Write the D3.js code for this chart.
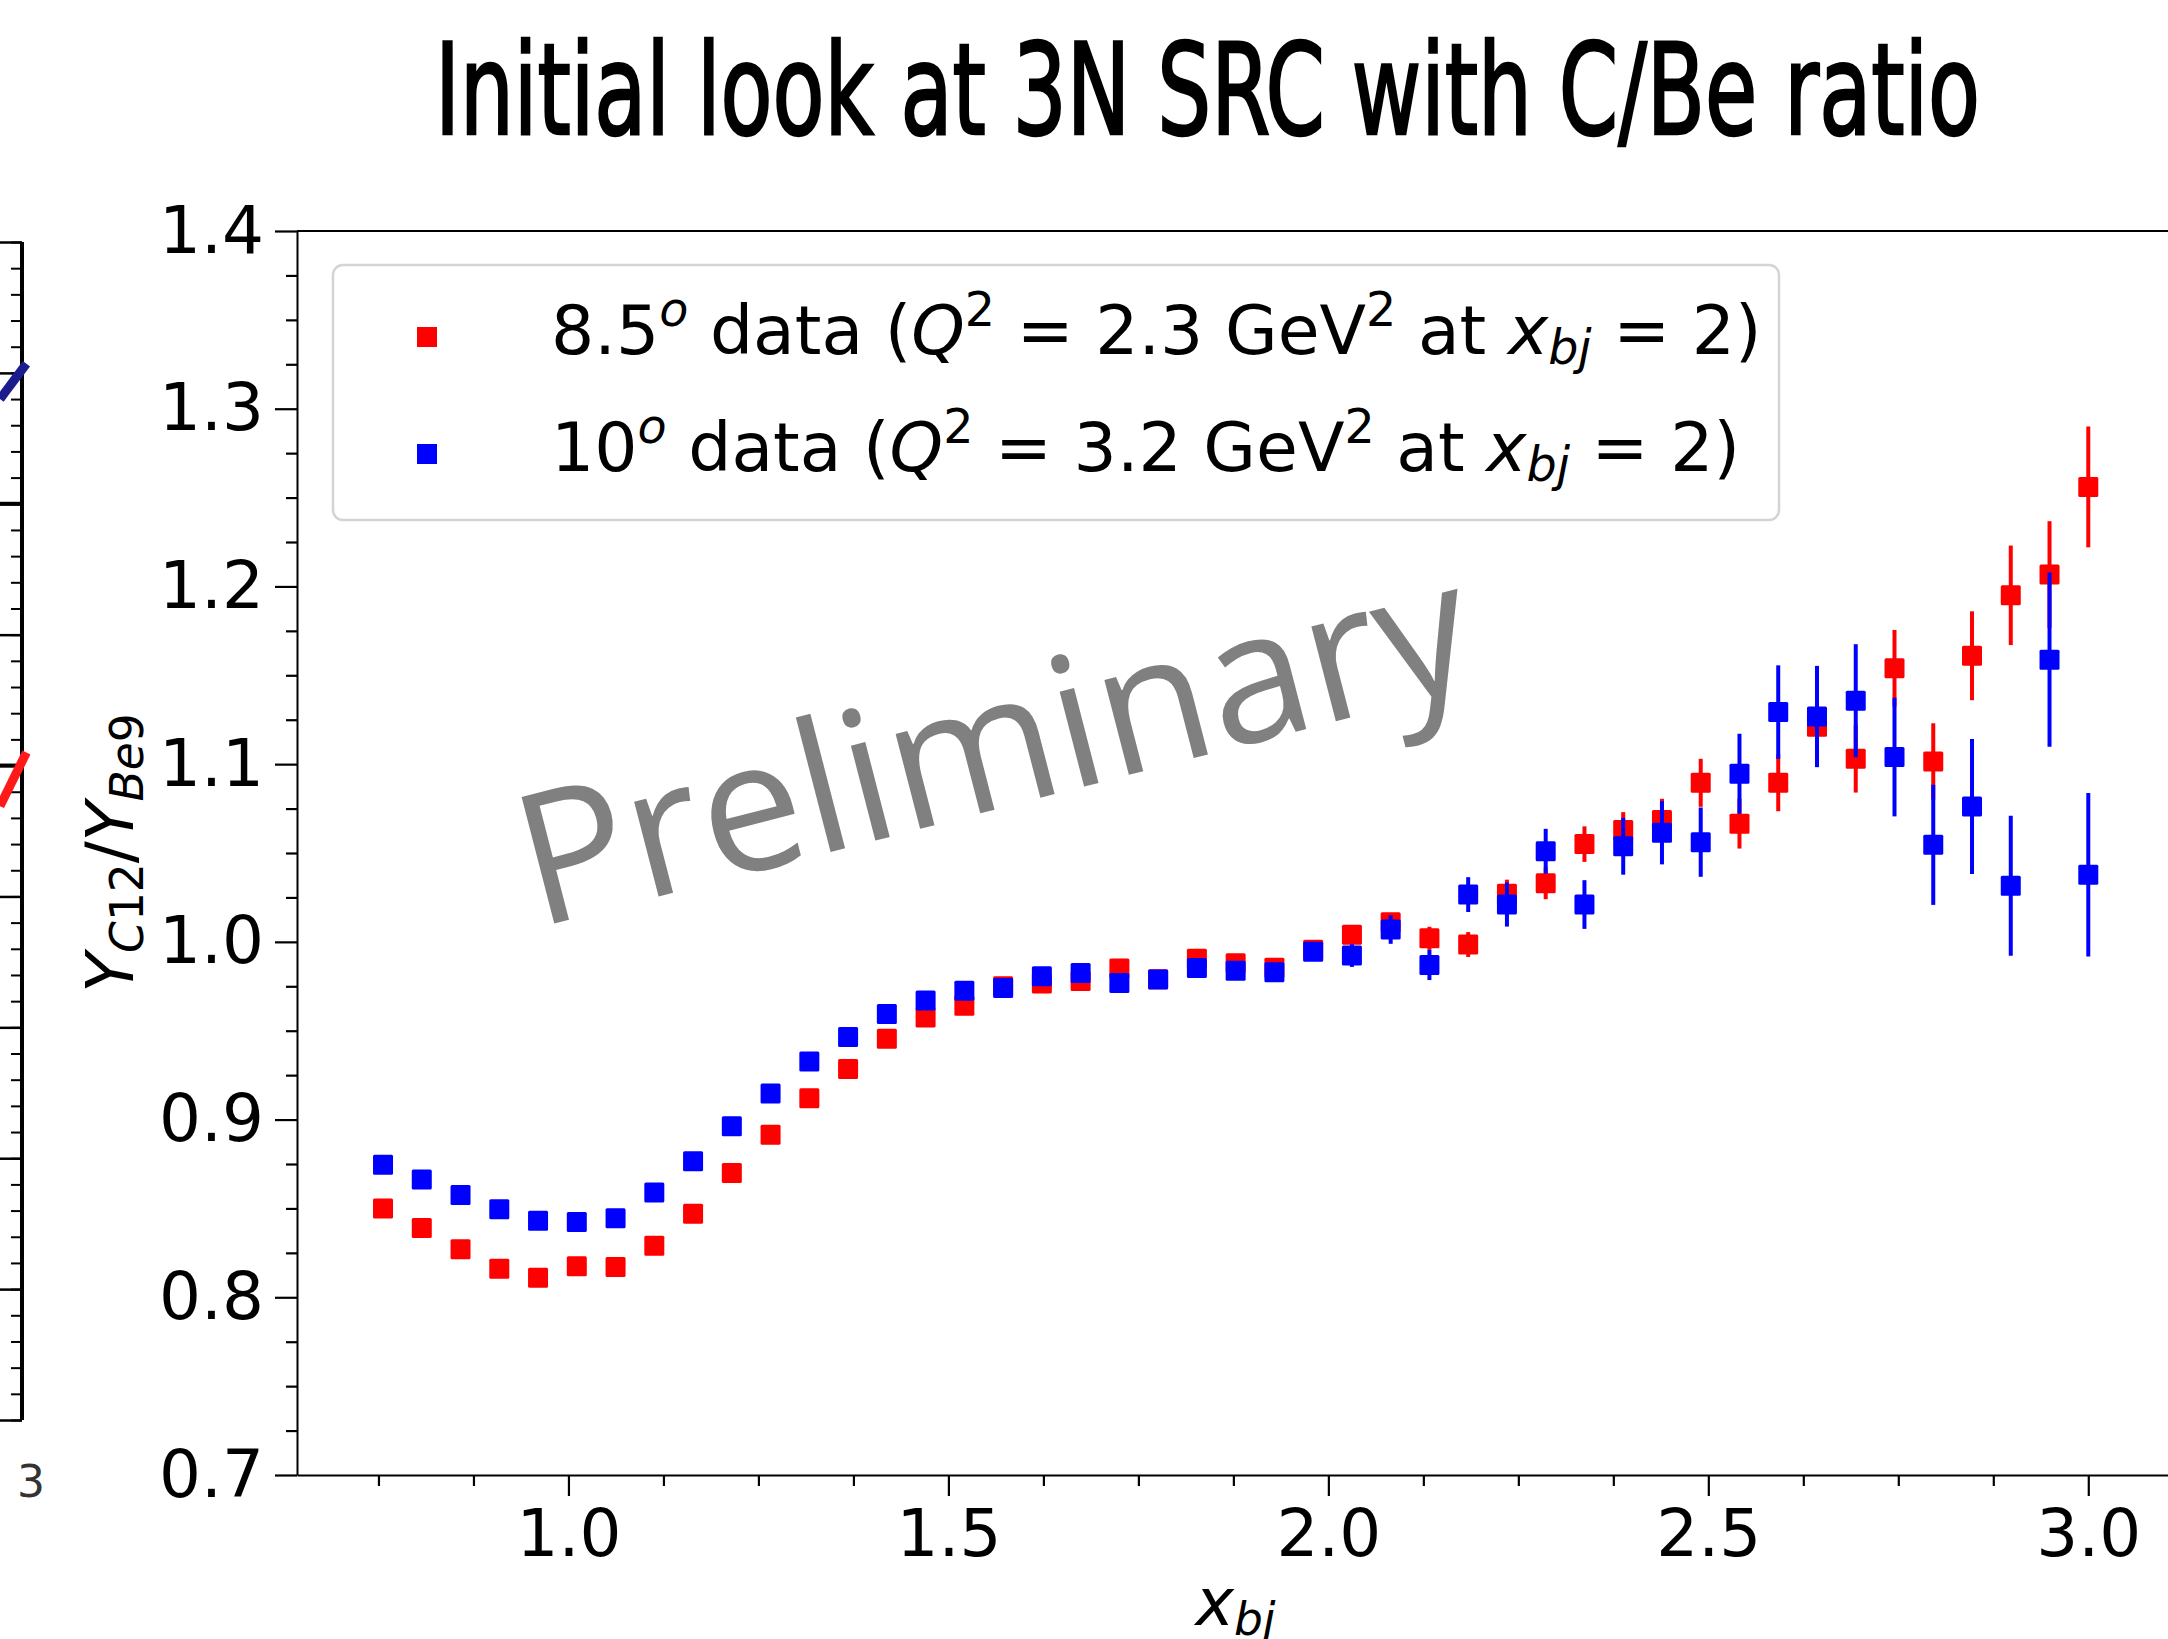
<!DOCTYPE html>
<html lang="en">
<head>
<meta charset="UTF-8" />
<title>Initial look at 3N SRC with C/Be ratio</title>
<script src="https://cdnjs.cloudflare.com/ajax/libs/d3/7.8.5/d3.min.js"></script>
<style>
  html, body { margin: 0; padding: 0; background: #fff; }
  svg { display: block; }
  text { font-family: 'DejaVu Sans', sans-serif; white-space: pre; }
</style>
</head>
<body>
<svg id="chart" width="2168" height="1639"></svg>
<script>
// x_bj bin centres (shared by both data sets)
const xbj = [0.756, 0.807, 0.858, 0.909, 0.960, 1.011, 1.062, 1.113, 1.164, 1.215,
  1.266, 1.317, 1.368, 1.419, 1.470, 1.521, 1.572, 1.623, 1.674, 1.725,
  1.776, 1.827, 1.878, 1.929, 1.980, 2.031, 2.082, 2.133, 2.184, 2.235,
  2.286, 2.337, 2.388, 2.439, 2.490, 2.541, 2.592, 2.643, 2.694, 2.745,
  2.796, 2.847, 2.898, 2.949, 3.000];

// 8.5 deg data
const ratio85 = [0.850, 0.839, 0.827, 0.816, 0.811, 0.8175, 0.817, 0.829, 0.847, 0.870,
  0.8915, 0.912, 0.9285, 0.9455, 0.9575, 0.964, 0.975, 0.9765, 0.978, 0.985,
  0.979, 0.9905, 0.988, 0.9855, 0.9955, 1.004, 1.011, 1.002, 0.9985, 1.027,
  1.033, 1.055, 1.063, 1.0685, 1.0895, 1.0665, 1.0895, 1.121, 1.103, 1.154,
  1.1015, 1.161, 1.195, 1.2067, 1.256];
const err85 = [0.002, 0.002, 0.002, 0.002, 0.002, 0.002, 0.002, 0.002, 0.002, 0.002,
  0.0025, 0.0025, 0.0025, 0.0025, 0.003, 0.003, 0.003, 0.0035, 0.0035, 0.004,
  0.004, 0.004, 0.004, 0.004, 0.0045, 0.005, 0.005, 0.0065, 0.007, 0.008,
  0.009, 0.010, 0.010, 0.012, 0.0135, 0.014, 0.016, 0.018, 0.019, 0.0215,
  0.0215, 0.025, 0.028, 0.030, 0.034];

// 10 deg data
const ratio10 = [0.8746, 0.8663, 0.8575, 0.8496, 0.843, 0.8423, 0.8445, 0.859, 0.8766, 0.8963,
  0.9147, 0.9327, 0.9465, 0.9594, 0.967, 0.9725, 0.974, 0.9806, 0.9825, 0.9769,
  0.9788, 0.9853, 0.9838, 0.9829, 0.9944, 0.9923, 1.0069, 0.987, 1.0266, 1.021,
  1.051, 1.021, 1.0538, 1.0614, 1.0561, 1.0946, 1.1293, 1.1268, 1.1357, 1.104,
  1.0546, 1.0762, 1.0316, 1.1588, 1.0378];
const err10 = [0.002, 0.002, 0.002, 0.002, 0.002, 0.002, 0.002, 0.002, 0.002, 0.002,
  0.003, 0.003, 0.003, 0.003, 0.003, 0.003, 0.0035, 0.0035, 0.0035, 0.0035,
  0.004, 0.004, 0.0045, 0.0045, 0.005, 0.0064, 0.008, 0.0085, 0.0098, 0.0124,
  0.0126, 0.0137, 0.016, 0.0178, 0.0195, 0.0225, 0.0263, 0.0285, 0.0318, 0.0334,
  0.0338, 0.038, 0.0394, 0.049, 0.046];

// ticks
const xMajorTicks = [1.0, 1.5, 2.0, 2.5, 3.0];
const xMinorTicks = [0.75, 0.875, 1.125, 1.25, 1.375, 1.625, 1.75, 1.875,
  2.125, 2.25, 2.375, 2.625, 2.75, 2.875];
const yMajorTicks = [0.7, 0.8, 0.9, 1.0, 1.1, 1.2, 1.3, 1.4];
const yMinorTicks = [0.725, 0.75, 0.775, 0.825, 0.85, 0.875, 0.925, 0.95, 0.975,
  1.025, 1.05, 1.075, 1.125, 1.15, 1.175, 1.225, 1.25, 1.275, 1.325, 1.35, 1.375];

// piece of the neighbouring plot cut by the left edge of the slide
const fragBlue = [[2.98, 7.80], [3.004, 8.07]];
const fragRed = [[2.98, 4.69], [3.004, 5.10]];
const fragThick = [5, 7];

const svg = d3.select('#chart');
svg.append('rect').attr('width', 2168).attr('height', 1639).attr('fill', '#fff');

// title
svg.append('text')
  .attr('x', 435).attr('y', 134)
  .attr('textLength', 1545)
  .attr('lengthAdjust', 'spacingAndGlyphs')
  .style('font-family', "'Liberation Sans Narrow', 'DejaVu Sans Condensed', sans-serif")
  .style('font-size', '126px')
  .attr('fill', '#000')
  .attr('stroke', '#000')
  .attr('stroke-width', 2.5)
  .text('Initial look at 3N SRC with C/Be ratio');

// ---- neighbouring panel fragment ----
const fragX = d3.scaleLinear().domain([2.98, 3.0]).range([0, 22]);
const fragY = d3.scaleLinear().domain([0, 9]).range([1420, 242]);
const frag = svg.append('g');
frag.append('g')
  .attr('transform', `translate(${fragX(3.0)},0)`)
  .call(d3.axisRight(fragY).ticks(45).tickSize(-11).tickFormat('').tickSizeOuter(0))
  .call(g => g.select('.domain').remove())
  .call(g => g.selectAll('line').attr('stroke-width', 2));
frag.append('g')
  .attr('transform', `translate(${fragX(3.0)},0)`)
  .call(d3.axisRight(fragY).ticks(9).tickSize(-22).tickFormat('').tickSizeOuter(0))
  .call(g => g.select('.domain').remove())
  .call(g => g.selectAll('line').attr('stroke-width', 2.5));
frag.selectAll('.thick').data(fragThick).enter().append('line')
  .attr('x1', fragX(2.98)).attr('x2', fragX(3.0))
  .attr('y1', d => fragY(d)).attr('y2', d => fragY(d))
  .attr('stroke', '#000').attr('stroke-width', 4);
frag.append('line')
  .attr('x1', fragX(3.0)).attr('x2', fragX(3.0))
  .attr('y1', fragY(0)).attr('y2', fragY(9))
  .attr('stroke', '#000').attr('stroke-width', 4);
const fragLine = d3.line().x(d => fragX(d[0])).y(d => fragY(d[1]));
frag.append('path').attr('d', fragLine(fragBlue))
  .attr('stroke', '#1c1c8c').attr('stroke-width', 9).attr('fill', 'none');
frag.append('path').attr('d', fragLine(fragRed))
  .attr('stroke', '#ff1a1a').attr('stroke-width', 9).attr('fill', 'none');
frag.append('text')
  .attr('x', 31).attr('y', 1497)
  .attr('text-anchor', 'middle')
  .style('font-size', '44px')
  .attr('fill', '#333')
  .text('3');

// ---- main axes ----
const plotLeft = 297, plotRight = 2174, plotTop = 231, plotBottom = 1475;
const x = d3.scaleLinear().domain([0.6428, 3.1128]).range([plotLeft, plotRight]);
const y = d3.scaleLinear().domain([0.7, 1.4]).range([plotBottom, plotTop]);

const tickFont = '66px';

const gx = svg.append('g').attr('transform', `translate(0,${plotBottom})`);
gx.call(d3.axisBottom(x).tickValues(xMajorTicks).tickFormat(d3.format('.1f'))
  .tickSize(21).tickPadding(13).tickSizeOuter(0));
gx.append('g').call(d3.axisBottom(x).tickValues(xMinorTicks).tickFormat('')
  .tickSize(11).tickSizeOuter(0))
  .call(g => g.select('.domain').remove());

const gy = svg.append('g').attr('transform', `translate(${plotLeft},0)`);
gy.call(d3.axisLeft(y).tickValues(yMajorTicks).tickFormat(d3.format('.1f'))
  .tickSize(22).tickPadding(11).tickSizeOuter(0));
gy.append('g').call(d3.axisLeft(y).tickValues(yMinorTicks).tickFormat('')
  .tickSize(11).tickSizeOuter(0))
  .call(g => g.select('.domain').remove());

[gx, gy].forEach(g => {
  g.selectAll('.domain').attr('stroke', '#000').attr('stroke-width', 2);
  g.selectAll('line').attr('stroke', '#000').attr('stroke-width', 2.2);
  g.selectAll('text')
    .style('font-family', "'DejaVu Sans', sans-serif")
    .style('font-size', tickFont)
    .attr('fill', '#000');
});

// top frame line
svg.append('line')
  .attr('x1', x.range()[0]).attr('x2', x.range()[1])
  .attr('y1', y.range()[1]).attr('y2', y.range()[1])
  .attr('stroke', '#000').attr('stroke-width', 2);

// mathtext-like helper: parts = [text, style]; style in '', 'i', 'sup', 'isup', 'sub', 'isub'
function rich(textSel, parts, size) {
  let shift = 0;
  parts.forEach(([t, s]) => {
    const sup = s.includes('sup');
    const sub = s.includes('sub');
    const target = sup ? -0.41 * size : sub ? 0.15 * size : 0;
    textSel.append('tspan')
      .attr('dy', target - shift)
      .style('font-size', ((sup || sub) ? 0.7 * size : size) + 'px')
      .style('font-style', s.startsWith('i') ? 'italic' : 'normal')
      .text(t);
    shift = target;
  });
}

// axis labels
const labelSize = 65;
const xl = svg.append('text')
  .attr('x', (plotLeft + plotRight) / 2).attr('y', 1625)
  .attr('text-anchor', 'middle')
  .style('font-size', labelSize + 'px');
rich(xl, [['x', 'i'], ['bj', 'isub']], labelSize);

const yl = svg.append('text')
  .attr('transform', `translate(133,${(plotTop + plotBottom) / 2}) rotate(-90)`)
  .attr('text-anchor', 'middle')
  .style('font-size', labelSize + 'px');
rich(yl, [['Y', 'i'], ['C', 'isub'], ['12', 'sub'], ['/', ''], ['Y', 'i'], ['Be', 'isub'], ['9', 'sub']], labelSize);

// watermark
svg.append('text')
  .attr('transform', 'translate(537,928) rotate(-14.5)')
  .style('font-family', "'Open Sans', 'Noto Sans', sans-serif")
  .style('font-size', '183px')
  .attr('fill', '#808080')
  .text('Preliminary');

// ---- data ----
const series = [
  { name: '8.5', color: '#ff0000', vals: ratio85, errs: err85 },
  { name: '10', color: '#0000ff', vals: ratio10, errs: err10 }
];
const mk = 20;

series.forEach(s => {
  const rows = xbj.map((xv, i) => ({ x: xv, v: s.vals[i], e: s.errs[i] }));
  const g = svg.append('g');
  g.selectAll('line').data(rows).enter().append('line')
    .attr('x1', d => x(d.x)).attr('x2', d => x(d.x))
    .attr('y1', d => y(d.v - d.e)).attr('y2', d => y(d.v + d.e))
    .attr('stroke', s.color).attr('stroke-width', 4);
  g.selectAll('rect').data(rows).enter().append('rect')
    .attr('x', d => x(d.x) - mk / 2).attr('y', d => y(d.v) - mk / 2)
    .attr('width', mk).attr('height', mk).attr('rx', 1.5)
    .attr('fill', s.color);
});

// ---- legend ----
const legendSize = 68;
const lg = svg.append('g');
lg.append('rect')
  .attr('x', 333).attr('y', 265).attr('width', 1446).attr('height', 255).attr('rx', 10)
  .attr('fill', '#fff').attr('fill-opacity', 0.8)
  .attr('stroke', '#d4d4d4').attr('stroke-width', 2.5);

const legendRows = [
  { color: '#ff0000', y: 354, parts: [['8.5', ''], ['o', 'isup'], [' data (', ''], ['Q', 'i'], ['2', 'sup'],
    [' = 2.3 GeV', ''], ['2', 'sup'], [' at ', ''], ['x', 'i'], ['bj', 'isub'], [' = 2)', '']] },
  { color: '#0000ff', y: 471, parts: [['10', ''], ['o', 'isup'], [' data (', ''], ['Q', 'i'], ['2', 'sup'],
    [' = 3.2 GeV', ''], ['2', 'sup'], [' at ', ''], ['x', 'i'], ['bj', 'isub'], [' = 2)', '']] }
];
legendRows.forEach(r => {
  lg.append('rect')
    .attr('x', 427 - mk / 2).attr('y', r.y - 17 - mk / 2)
    .attr('width', mk).attr('height', mk).attr('fill', r.color);
  const t = lg.append('text')
    .attr('x', 551).attr('y', r.y)
    .style('font-size', legendSize + 'px');
  rich(t, r.parts, legendSize);
});
</script>
</body>
</html>
